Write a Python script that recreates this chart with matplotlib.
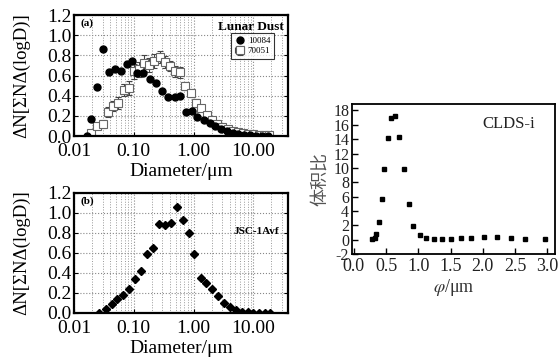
import numpy as np
import matplotlib
matplotlib.use("Agg")
import matplotlib.pyplot as plt
from matplotlib.ticker import FixedLocator, LogLocator, NullFormatter

plt.rcParams['font.family'] = ['Liberation Serif', 'Noto Sans CJK SC']
plt.rcParams['mathtext.fontset'] = 'stix'
plt.rcParams['axes.unicode_minus'] = False

# (a) Lunar dust, sample 10084 (filled circles)
d10084 = [0.0163, 0.019, 0.0246, 0.030, 0.0386, 0.048, 0.0606, 0.076, 0.095, 0.115,
          0.145, 0.188, 0.237, 0.294, 0.38, 0.48, 0.60, 0.75, 0.94, 1.16,
          1.47, 1.85, 2.30, 2.87, 3.61, 4.5, 5.6, 7.0, 8.8, 11.0, 13.8, 17.3]
n10084 = [0.00, 0.17, 0.49, 0.86, 0.63, 0.66, 0.64, 0.71, 0.74, 0.62,
          0.62, 0.57, 0.53, 0.45, 0.39, 0.39, 0.40, 0.24, 0.25, 0.19,
          0.16, 0.13, 0.10, 0.07, 0.05, 0.03, 0.02, 0.01, 0.01, 0.00, 0.00, 0.00]

# (a) sample 70051 (open squares with error bars)
d70051 = [0.019, 0.024, 0.030, 0.037, 0.045, 0.055, 0.068, 0.082, 0.10, 0.12,
          0.15, 0.18, 0.22, 0.27, 0.33, 0.40, 0.49, 0.60, 0.73, 0.90,
          1.1, 1.35, 1.65, 2.0, 2.5, 3.0, 3.7, 4.5, 5.5, 6.7,
          8.2, 10.0, 12.2, 15.0, 18.0]
n70051 = [0.03, 0.10, 0.12, 0.24, 0.30, 0.33, 0.46, 0.48, 0.64, 0.66,
          0.72, 0.70, 0.74, 0.78, 0.73, 0.69, 0.64, 0.63, 0.50, 0.43,
          0.33, 0.28, 0.21, 0.16, 0.12, 0.09, 0.07, 0.05, 0.04, 0.03,
          0.02, 0.02, 0.01, 0.01, 0.01]
e70051 = [0.02, 0.03, 0.04, 0.05, 0.05, 0.06, 0.06, 0.07, 0.07, 0.07,
          0.08, 0.07, 0.07, 0.06, 0.06, 0.05, 0.05, 0.05, 0.04, 0.04,
          0.04, 0.03, 0.03, 0.03, 0.02, 0.02, 0.02, 0.02, 0.01, 0.01,
          0.01, 0.01, 0.01, 0.01, 0.01]

# (b) JSC-1Avf simulant
d_jsc = [0.0266, 0.034, 0.0428, 0.053, 0.067, 0.084, 0.106, 0.132, 0.169, 0.213,
         0.265, 0.334, 0.42, 0.525, 0.66, 0.84, 1.03, 1.32, 1.62, 2.03,
         2.61, 3.29, 4.1, 5.1, 6.4, 8.0, 10.0, 12.4, 15.4, 19.2]
n_jsc = [0.00, 0.04, 0.09, 0.14, 0.18, 0.24, 0.34, 0.42, 0.59, 0.65,
         0.89, 0.88, 0.90, 1.06, 0.93, 0.80, 0.59, 0.35, 0.30, 0.24,
         0.17, 0.10, 0.06, 0.03, 0.01, 0.01, 0.00, 0.00, 0.00, 0.00]

# (c) CLDS-i
phi = [0.28, 0.32, 0.35, 0.39, 0.43, 0.47, 0.53, 0.58, 0.63, 0.70,
       0.77, 0.85, 0.92, 1.02, 1.12, 1.24, 1.37, 1.50, 1.66, 1.82,
       2.02, 2.22, 2.43, 2.66, 2.96]
vol = [0.05, 0.2, 0.8, 2.5, 5.6, 9.9, 14.2, 16.9, 17.2, 14.3,
       9.8, 5.0, 1.9, 0.6, 0.2, 0.1, 0.1, 0.1, 0.2, 0.3,
       0.4, 0.4, 0.3, 0.1, 0.05]

xt = [0.01, 0.1, 1, 10]
xt_labels = ['0.01', '0.10', '1.00', '10.00']
yt = [0.0, 0.2, 0.4, 0.6, 0.8, 1.0, 1.2]

fig = plt.figure(figsize=(5.59, 3.6), dpi=100)
ax_a = fig.add_axes([0.1324, 0.6222, 0.3828, 0.3361])
ax_b = fig.add_axes([0.1324, 0.1306, 0.3828, 0.3333])
ax_c = fig.add_axes([0.6297, 0.2944, 0.3631, 0.4167])


def style_log(ax):
    ax.set_xscale('log')
    ax.set_xlim(0.01, 38)
    ax.set_ylim(0, 1.2)
    ax.xaxis.set_major_locator(FixedLocator(xt))
    ax.set_xticklabels(xt_labels)
    ax.xaxis.set_minor_locator(LogLocator(base=10, subs=np.arange(2, 10)))
    ax.xaxis.set_minor_formatter(NullFormatter())
    ax.set_yticks(yt)
    ax.set_yticklabels(['%.1f' % v for v in yt])
    ax.grid(True, which='major', color='#888888', linestyle=':', linewidth=0.8)
    ax.grid(True, which='minor', axis='x', color='#999999', linestyle=':', linewidth=0.7)
    ax.set_axisbelow(True)
    ax.tick_params(which='both', direction='in', right=True, top=False,
                   labelsize=14, length=3, width=0.8)
    ax.tick_params(axis='y', pad=2)
    ax.tick_params(axis='x', pad=5)
    ax.tick_params(which='minor', length=0)
    for s in ax.spines.values():
        s.set_linewidth(1.6)
    ax.set_xlabel('Diameter/μm', fontsize=14, labelpad=2)
    ax.set_ylabel('ΔN[ΣNΔ(logD)]', fontsize=13.5)
    ax.yaxis.set_label_coords(-0.205, 0.5)


style_log(ax_a)
d7 = np.array(d70051)
xerr = [d7 * (1 - 10 ** -0.045), d7 * (10 ** 0.045 - 1)]
ax_a.errorbar(d70051, n70051, yerr=e70051, xerr=xerr, fmt='s', ms=6,
              mfc='white', mec='#666666', mew=0.8, ecolor='#444444',
              elinewidth=0.8, capsize=2, capthick=0.8, label='70051', zorder=2)
ax_a.plot(d10084, n10084, 'o', ms=5, color='black', label='10084', zorder=3)
ax_a.text(0.03, 0.93, '(a)', transform=ax_a.transAxes, fontsize=8,
          fontweight='bold', va='center')
ax_a.text(0.98, 0.9, 'Lunar Dust', transform=ax_a.transAxes, fontsize=9.5,
          fontweight='bold', ha='right', va='center')
leg = ax_a.legend(loc='upper right', bbox_to_anchor=(0.955, 0.89),
                  fontsize=6.5, frameon=True, fancybox=False, borderpad=0.4,
                  handletextpad=0.3, handlelength=1.2, labelspacing=0.25)
leg.get_frame().set_edgecolor('black')
leg.get_frame().set_linewidth(0.8)

style_log(ax_b)
ax_b.plot(d_jsc, n_jsc, 'D', ms=4.2, color='black')
ax_b.text(0.03, 0.93, '(b)', transform=ax_b.transAxes, fontsize=8,
          fontweight='bold', va='center')
ax_b.text(0.96, 0.68, 'JSC-1Avf', transform=ax_b.transAxes, fontsize=8,
          fontweight='bold', ha='right', va='center')

ax_c.plot(phi, vol, 's', ms=2.8, color='black')
ax_c.set_xlim(-0.03, 3.12)
ax_c.set_ylim(-2, 18.9)
ax_c.set_xticks([0.0, 0.5, 1.0, 1.5, 2.0, 2.5, 3.0])
ax_c.set_xticklabels(['0.0', '0.5', '1.0', '1.5', '2.0', '2.5', '3.0'])
ax_c.set_yticks(range(-2, 19, 2))
ax_c.tick_params(direction='in', length=4, width=1.0, pad=2, labelcolor='#222222')
ax_c.tick_params(axis='x', labelsize=13, pad=3)
ax_c.tick_params(axis='y', labelsize=11.5)
for s in ax_c.spines.values():
    s.set_linewidth(1.3)
ax_c.set_xlabel(r'$\varphi$/μm', fontsize=13, color='#333333', labelpad=1)
ax_c.set_ylabel('体积比', fontsize=13, color='#555555', labelpad=3)
ax_c.text(0.9, 0.87, 'CLDS-i', transform=ax_c.transAxes, fontsize=12,
          ha='right', va='center', color='#222222')

fig.savefig('out.png', dpi=100)
